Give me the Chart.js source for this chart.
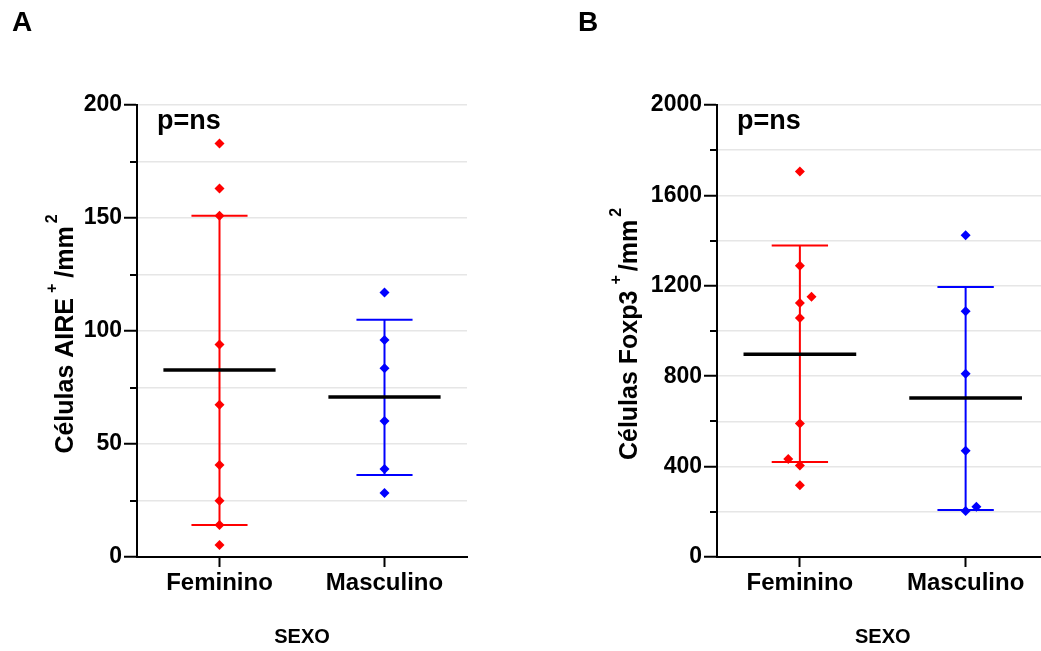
<!DOCTYPE html>
<html>
<head>
<meta charset="utf-8">
<script src="https://cdn.jsdelivr.net/npm/chart.js@4.4.1/dist/chart.umd.min.js"></script>
<style>
html,body{margin:0;padding:0;background:#fff;overflow:hidden;width:1041px;height:651px;}
canvas{position:absolute;top:0;}
#chartA{left:0;}
#chartB{left:560px;}
</style>
</head>
<body>
<canvas id="chartA" width="520" height="651"></canvas>
<canvas id="chartB" width="500" height="651"></canvas>
<script>
const categories = ["Feminino", "Masculino"];

// A: celulas AIRE+/mm2
const aireFem = [183, 163, 151, 94, 67.4, 40.7, 24.9, 14.2, 5.3];
const aireMasc = [117, 96, 83.5, 60.2, 38.9, 28.3];
const aireMean = [82.7, 70.8];
const aireLow = [14.2, 36.3];
const aireHigh = [151, 105];
const aireTicks = [0, 50, 100, 150, 200];

// B: celulas Foxp3+/mm2
const foxFem = [1706, 1289, 1151, 1124, 1058, 591, 434, 405, 318];
const foxFemJitter = [0, 0, 0.07, 0, 0, 0, -0.07, 0, 0];
const foxMasc = [1424, 1087, 811, 470, 204, 222];
const foxMascJitter = [0, 0, 0, 0, 0, 0.065];
const foxMean = [897, 703];
const foxLow = [420, 208];
const foxHigh = [1378, 1195];
const foxTicks = [0, 400, 800, 1200, 1600, 2000];

const FAMILY = '"Liberation Sans", Arial, sans-serif';
const RED = "#ff0000";
const BLUE = "#0000ff";

Chart.defaults.color = "#000";
Chart.defaults.font.family = FAMILY;

function fontStr(size){
    return "bold " + size + "px " + FAMILY;
}

const extras = {
    id: "extras",
    afterDraw(chart, args, opts){
        const ctx = chart.ctx;
        const area = chart.chartArea;
        const ys = chart.scales.y;

        ctx.save();

        // short minor ticks
        ctx.strokeStyle = "#000";
        ctx.lineWidth = 2;
        ys.ticks.forEach(t => {
            if(opts.labels.indexOf(t.value) === -1){
                const py = Math.round(ys.getPixelForValue(t.value));
                ctx.beginPath();
                ctx.moveTo(area.left - 7, py);
                ctx.lineTo(area.left, py);
                ctx.stroke();
            }
        });

        ctx.fillStyle = "#000";
        ctx.textAlign = "left";

        // p=ns
        ctx.font = fontStr(27);
        ctx.textBaseline = "middle";
        ctx.fillText("p=ns", area.left + 20, area.top + 17);

        // panel letter
        ctx.font = fontStr(28);
        ctx.textBaseline = "alphabetic";
        ctx.fillText(opts.letter, opts.letterX, 31);

        // y title with superscripts
        ctx.translate(opts.titleX, (area.top + area.bottom) / 2 + 3);
        ctx.rotate(-Math.PI / 2);
        let total = 0;
        opts.parts.forEach(p => {
            ctx.font = fontStr(p.size);
            p.w = ctx.measureText(p.text).width;
            total += p.w + (p.gap || 0);
        });
        let x = -total / 2;
        opts.parts.forEach(p => {
            ctx.font = fontStr(p.size);
            ctx.fillText(p.text, x, -(p.raise || 0));
            x += p.w + (p.gap || 0);
        });

        ctx.restore();
    }
};

function groupSets(values, jitter, cx, color, mean, low, high){

    const pts = values.map((v, i) => ({x: cx + (jitter ? jitter[i] : 0), y: v}));

    const line = (data, col, w) => ({
        data,
        showLine: true,
        borderColor: col,
        borderWidth: w,
        borderCapStyle: "butt",
        pointRadius: 0,
        pointHoverRadius: 0
    });

    return {
        points: {
            data: pts,
            pointStyle: "rectRot",
            pointRadius: 5,
            pointHoverRadius: 5,
            backgroundColor: color,
            borderColor: color,
            borderWidth: 0
        },
        mean: line([{x: cx - 0.34, y: mean}, {x: cx + 0.34, y: mean}], "#000", 3.5),
        bars: [
            line([{x: cx, y: low}, {x: cx, y: high}], color, 2),
            line([{x: cx - 0.17, y: high}, {x: cx + 0.17, y: high}], color, 2),
            line([{x: cx - 0.17, y: low}, {x: cx + 0.17, y: low}], color, 2)
        ]
    };
}

function makeChart(id, cfg){

    const fem = groupSets(cfg.fem, cfg.femJitter, 0.5, RED, cfg.mean[0], cfg.low[0], cfg.high[0]);
    const masc = groupSets(cfg.masc, cfg.mascJitter, 1.5, BLUE, cfg.mean[1], cfg.low[1], cfg.high[1]);

    // first dataset is drawn last (on top)
    const datasets = [
        fem.points, masc.points,
        fem.mean, masc.mean,
        ...fem.bars, ...masc.bars
    ];

    return new Chart(document.getElementById(id), {
        type: "scatter",
        data: {datasets},
        plugins: [extras],
        options: {
            responsive: false,
            animation: false,
            events: [],
            layout: {
                padding: {top: cfg.padTop, right: cfg.padRight, left: 0, bottom: 0}
            },
            plugins: {
                legend: {display: false},
                tooltip: {enabled: false},
                extras: {
                    letter: cfg.letter,
                    letterX: cfg.letterX,
                    titleX: cfg.titleX,
                    parts: cfg.parts,
                    labels: cfg.ticks
                }
            },
            scales: {
                x: {
                    type: "linear",
                    min: 0,
                    max: 2,
                    afterBuildTicks: s => {
                        s.ticks = [{value: 0.5}, {value: 1.5}];
                    },
                    ticks: {
                        autoSkip: false,
                        maxRotation: 0,
                        padding: 2,
                        font: {size: 24, weight: "bold"},
                        callback: v => categories[Math.floor(v)]
                    },
                    grid: {
                        drawOnChartArea: false,
                        tickLength: 10,
                        tickColor: "#000",
                        tickWidth: 2
                    },
                    border: {color: "#000", width: 2},
                    title: {
                        display: true,
                        text: "SEXO",
                        font: {size: 20, weight: "bold"},
                        padding: {top: 0, bottom: 2}
                    },
                    afterFit: s => {
                        s.height = cfg.xHeight;
                    }
                },
                y: {
                    min: 0,
                    max: cfg.max,
                    afterBuildTicks: s => {
                        const t = [];
                        for(let v = 0; v <= cfg.max; v += cfg.step){
                            t.push({value: v});
                        }
                        s.ticks = t;
                    },
                    ticks: {
                        autoSkip: false,
                        padding: 2,
                        font: {size: 23, weight: "bold"},
                        callback: v => cfg.ticks.indexOf(v) !== -1 ? String(v) : ""
                    },
                    grid: {
                        color: c => (c.tick && c.tick.value === 0) ? "rgba(0,0,0,0)" : "#e6e6e6",
                        lineWidth: 1.5,
                        tickLength: 13,
                        tickWidth: 2,
                        tickColor: c => (c.tick && cfg.ticks.indexOf(c.tick.value) !== -1) ? "#000" : "rgba(0,0,0,0)"
                    },
                    border: {color: "#000", width: 2},
                    afterFit: s => {
                        s.width = cfg.yWidth;
                    }
                }
            }
        }
    });
}

makeChart("chartA", {
    fem: aireFem,
    masc: aireMasc,
    mean: aireMean,
    low: aireLow,
    high: aireHigh,
    ticks: aireTicks,
    max: 200,
    step: 25,
    padTop: 105,
    padRight: 53,
    yWidth: 137,
    xHeight: 94,
    letter: "A",
    letterX: 12,
    titleX: 73,
    parts: [
        {text: "Células AIRE", size: 25, gap: 5},
        {text: "+", size: 16, raise: 16, gap: 6},
        {text: "/mm", size: 25, gap: 3},
        {text: "2", size: 16, raise: 16}
    ]
});

makeChart("chartB", {
    fem: foxFem,
    femJitter: foxFemJitter,
    masc: foxMasc,
    mascJitter: foxMascJitter,
    mean: foxMean,
    low: foxLow,
    high: foxHigh,
    ticks: foxTicks,
    max: 2000,
    step: 200,
    padTop: 105,
    padRight: 11.5,
    yWidth: 157,
    xHeight: 94,
    letter: "B",
    letterX: 18,
    titleX: 77,
    parts: [
        {text: "Células Foxp3", size: 25, gap: 6},
        {text: "+", size: 16, raise: 16, gap: 4},
        {text: "/mm", size: 25, gap: 3},
        {text: "2", size: 16, raise: 16}
    ]
});
</script>
</body>
</html>
